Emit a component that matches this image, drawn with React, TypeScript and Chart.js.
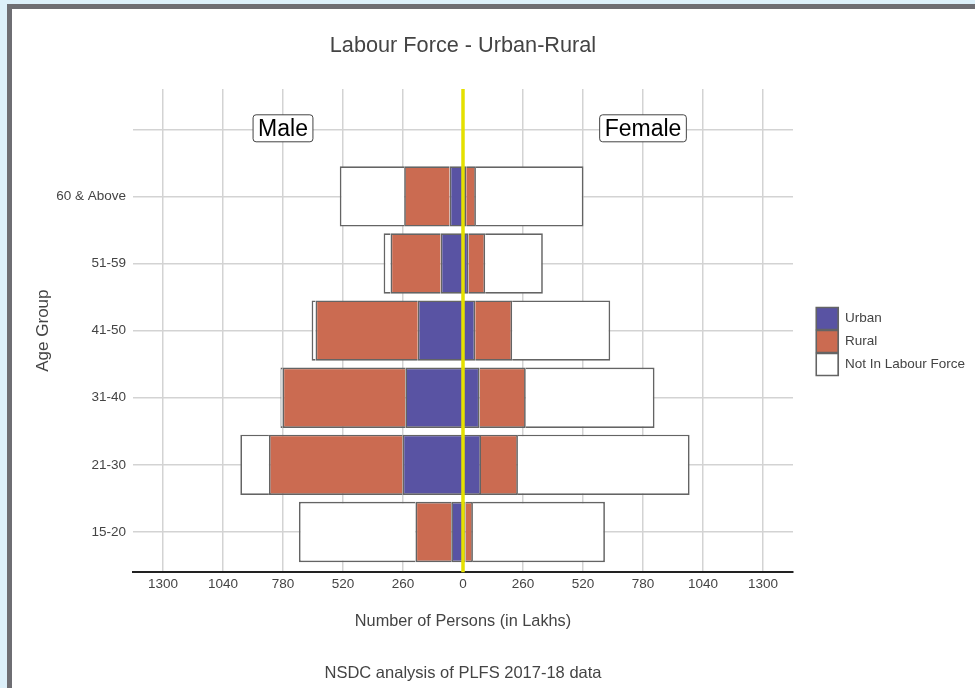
import React, { useEffect, useRef } from 'react';
import { Chart, registerables } from 'chart.js';

Chart.register(...registerables);

// ---------- data ----------
const ageGroups = ['15-20', '21-30', '31-40', '41-50', '51-59', '60 & Above'];
const seriesNames = ['Urban', 'Rural', 'Not In Labour Force'];
const maleUrban = [51, 262, 250, 196, 97, 58];
const maleRural = [155, 579, 532, 443, 217, 197];
const maleNotInLF = [505, 124, 9, 17, 30, 279];
const femaleUrban = [11, 78, 72, 53, 24, 14];
const femaleRural = [32, 160, 200, 160, 72, 42];
const femaleNotInLF = [572, 744, 558, 425, 250, 466];
const xTickValues = [-1300, -1040, -780, -520, -260, 0, 260, 520, 780, 1040, 1300];
const xLimit = 1430;
const sexLabels = ['Male', 'Female'];
const sexLabelX = [-780, 780];
const sexLabelRow = 6;

const FONT = '"Liberation Sans", Arial, Helvetica, sans-serif';
const seriesColors = ['#5953a3', '#cb6b51', '#ffffff'];
const TEXT = '#444444';

const overlayPlugin = {
  id: 'overlayPlugin',
  afterDatasetsDraw(chart: any) {
    const { ctx, chartArea, scales } = chart;
    const x = scales.x;
    const y = scales.y;
    ctx.save();
    const x0 = x.getPixelForValue(0);
    ctx.strokeStyle = '#e5e000';
    ctx.lineWidth = 3.5;
    ctx.beginPath();
    ctx.moveTo(x0, chartArea.top);
    ctx.lineTo(x0, chartArea.bottom);
    ctx.stroke();

    ctx.font = '23px ' + FONT;
    ctx.textAlign = 'center';
    ctx.textBaseline = 'middle';
    sexLabels.forEach((t, i) => {
      const cx = x.getPixelForValue(sexLabelX[i]);
      const cy = y.getPixelForValue(sexLabelRow) - 1;
      const w = ctx.measureText(t).width + 10;
      const h = 27;
      ctx.beginPath();
      if ((ctx as any).roundRect) (ctx as any).roundRect(cx - w / 2, cy - h / 2, w, h, 3);
      else ctx.rect(cx - w / 2, cy - h / 2, w, h);
      ctx.fillStyle = '#ffffff';
      ctx.fill();
      ctx.strokeStyle = '#444444';
      ctx.lineWidth = 1;
      ctx.stroke();
      ctx.fillStyle = '#000000';
      ctx.fillText(t, cx, cy + 1);
    });
    ctx.restore();
  },
};

export default function App() {
  const ref = useRef<HTMLCanvasElement | null>(null);

  useEffect(() => {
    if (!ref.current) return;
    Chart.defaults.font.family = FONT;
    Chart.defaults.color = TEXT;

    const male = [maleUrban, maleRural, maleNotInLF];
    const female = [femaleUrban, femaleRural, femaleNotInLF];
    const mk = (vals: number[], sign: number, i: number) => ({
      label: seriesNames[i],
      data: vals.map((v, k) => ({ x: sign * v, y: k })),
      backgroundColor: seriesColors[i],
      borderColor: '#646464',
      borderWidth: 1.7,
      borderSkipped: 'start',
      stack: 'pyramid',
      xAxisID: 'x',
      yAxisID: 'y',
      categoryPercentage: 1,
      barPercentage: 0.9,
    });
    const datasets = [
      ...male.map((v, i) => mk(v, -1, i)),
      ...female.map((v, i) => mk(v, 1, i)),
    ];

    const chart = new Chart(ref.current, {
      type: 'bar',
      data: { datasets } as any,
      plugins: [overlayPlugin],
      options: {
        indexAxis: 'y',
        animation: false,
        responsive: false,
        layout: { padding: { left: 0, right: 0, top: 0, bottom: 5 } },
        scales: {
          x: {
            type: 'linear',
            position: 'bottom',
            min: -xLimit,
            max: xLimit,
            stacked: true,
            offset: false,
            afterBuildTicks: (s: any) => {
              s.ticks = xTickValues.map((v) => ({ value: v }));
            },
            afterFit: (s: any) => {
              s.height = 91;
            },
            grid: { color: '#d3d3d3', lineWidth: 1.5, drawTicks: false, offset: false },
            border: { display: true, color: '#222222', width: 2 },
            ticks: {
              padding: 4.4,
              color: TEXT,
              font: { size: 13.5 },
              maxRotation: 0,
              autoSkip: false,
              callback: (v: any) => String(Math.abs(Number(v))),
            },
            title: {
              display: true,
              text: 'Number of Persons (in Lakhs)',
              color: TEXT,
              font: { size: 16.3 },
              padding: { top: 0, bottom: 32.3 },
            },
          },
          y: {
            type: 'linear',
            position: 'left',
            min: -0.6,
            max: 6.6,
            stacked: true,
            offset: false,
            afterBuildTicks: (s: any) => {
              s.ticks = [0, 1, 2, 3, 4, 5, 6].map((v) => ({ value: v }));
            },
            afterFit: (s: any) => {
              s.width = 133;
            },
            grid: { color: '#d3d3d3', lineWidth: 1.5, drawTicks: false, offset: false },
            border: { display: false },
            ticks: {
              padding: 7,
              color: TEXT,
              font: { size: 13.5 },
              autoSkip: false,
              callback: (v: any) => ageGroups[Number(v)] ?? '',
            },
            title: {
              display: true,
              text: 'Age Group',
              color: TEXT,
              font: { size: 17 },
              padding: { top: 32.8, bottom: 0 },
            },
          },
          y2: {
            type: 'linear',
            position: 'right',
            display: true,
            offset: false,
            grid: { display: false },
            border: { display: false },
            ticks: { display: false },
            afterFit: (s: any) => {
              const lw = s.chart.legend ? s.chart.legend.width : 0;
              s.width = Math.max(0, s.chart.width - lw - 793);
            },
          },
        } as any,
        plugins: {
          title: {
            display: true,
            text: 'Labour Force - Urban-Rural',
            color: TEXT,
            font: { size: 21.7, weight: 'normal' },
            padding: { top: 33, bottom: 30 },
            fullSize: false,
          },
          subtitle: {
            display: true,
            position: 'bottom',
            text: 'NSDC analysis of PLFS 2017-18 data',
            color: TEXT,
            font: { size: 16.5 },
            padding: { top: 0, bottom: 0 },
            fullSize: false,
          },
          legend: {
            position: 'right',
            align: 'center',
            labels: {
              boxWidth: 22,
              boxHeight: 22,
              padding: 1,
              color: TEXT,
              font: { size: 13.5 },
              filter: (item: any) => item.datasetIndex < 3,
            },
          },
          tooltip: { enabled: false },
        } as any,
      },
    });
    return () => chart.destroy();
  }, []);

  return (
    <div
      style={{
        position: 'fixed',
        left: 0,
        top: 0,
        width: 975,
        height: 688,
        overflow: 'hidden',
        background: '#dcf0fa',
      }}
    >
      <div
        style={{
          position: 'absolute',
          left: 7,
          top: 4,
          width: 1000,
          height: 700,
          background: '#ffffff',
          borderTop: '5px solid #6e6e73',
          borderLeft: '5px solid #6e6e73',
          boxSizing: 'border-box',
        }}
      />
      <canvas
        ref={ref}
        width={975}
        height={688}
        style={{ position: 'absolute', left: 0, top: 0, width: 975, height: 688 }}
      />
    </div>
  );
}
